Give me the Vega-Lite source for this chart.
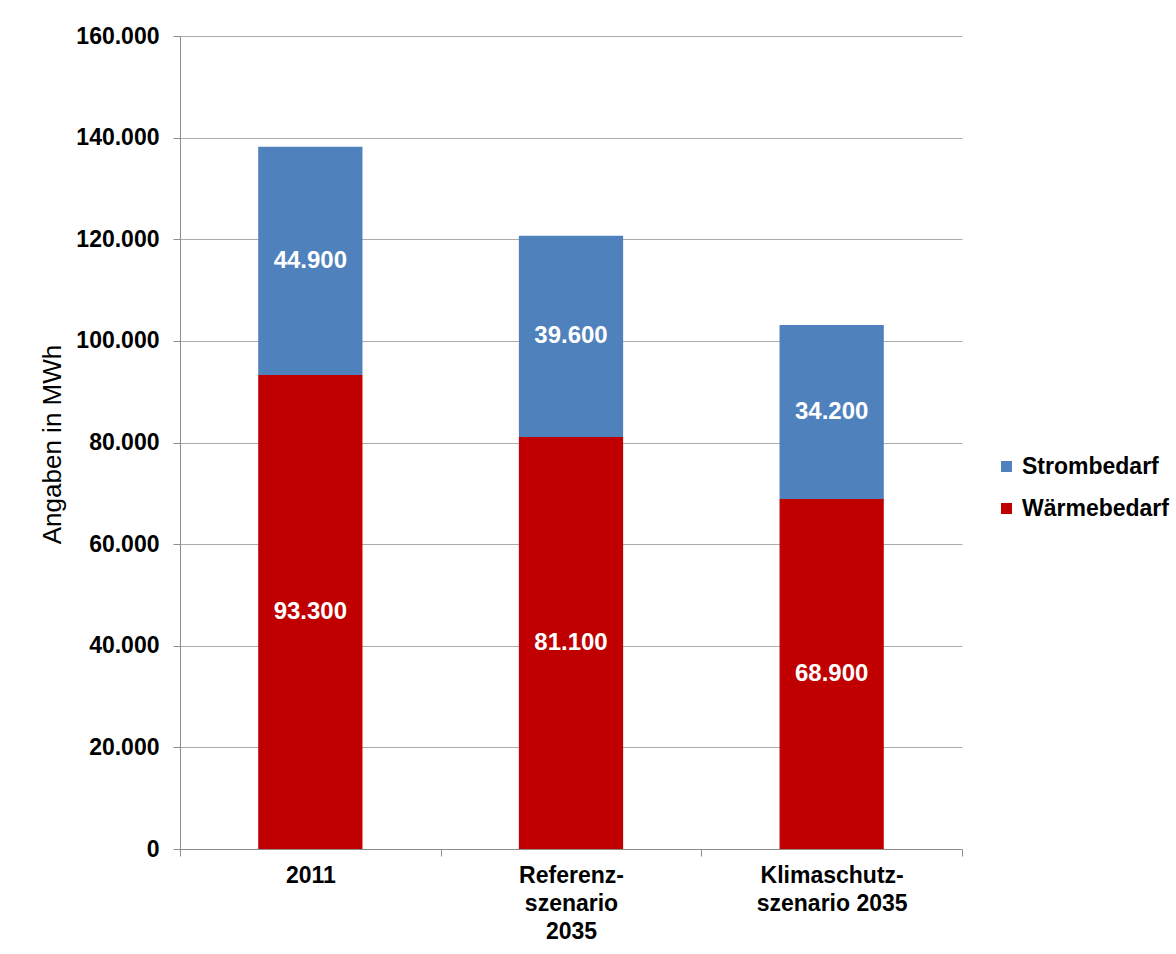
{
  "$schema": "https://vega.github.io/schema/vega-lite/v6.json",
  "width": 782,
  "height": 813,
  "autosize": {"type": "none"},
  "padding": {"left": 180, "top": 36, "right": 214, "bottom": 105},
  "background": "white",
  "config": {
    "locale": {"number": {"decimal": ",", "thousands": ".", "grouping": [3], "currency": ["", " €"]}},
    "view": {"stroke": null},
    "font": "Liberation Sans"
  },
  "data": {
    "values": [
      {"scenario": "2011", "label": "2011", "typ": "Wärmebedarf", "value": 93300},
      {"scenario": "2011", "label": "2011", "typ": "Strombedarf", "value": 44900},
      {"scenario": "Referenz", "label": "Referenz-|szenario|2035", "typ": "Wärmebedarf", "value": 81100},
      {"scenario": "Referenz", "label": "Referenz-|szenario|2035", "typ": "Strombedarf", "value": 39600},
      {"scenario": "Klimaschutz", "label": "Klimaschutz-|szenario 2035", "typ": "Wärmebedarf", "value": 68900},
      {"scenario": "Klimaschutz", "label": "Klimaschutz-|szenario 2035", "typ": "Strombedarf", "value": 34200}
    ]
  },
  "transform": [
    {"stack": "value", "groupby": ["label"], "sort": [{"field": "typ", "order": "descending"}], "as": ["v0", "v1"]},
    {"calculate": "(datum.v0 + datum.v1) / 2", "as": "mid"}
  ],
  "encoding": {
    "x": {
      "field": "label",
      "type": "nominal",
      "sort": null,
      "scale": {"paddingInner": 0, "paddingOuter": 0},
      "axis": {
        "title": null,
        "labelAngle": 0,
        "labelExpr": "split(datum.label, '|')",
        "labelFontSize": 23,
        "labelFontWeight": "bold",
        "labelColor": "black",
        "labelLineHeight": 28,
        "labelPadding": 8,
        "tickBand": "extent",
        "tickSize": 7,
        "tickColor": "#8C8C8C",
        "domainColor": "#8C8C8C",
        "labelBaseline": "top"
      }
    }
  },
  "layer": [
    {
      "mark": {"type": "bar", "width": {"band": 0.4}},
      "encoding": {
        "y": {
          "field": "v1",
          "type": "quantitative",
          "scale": {"domain": [0, 160000], "nice": false},
          "axis": {
            "values": [0, 20000, 40000, 60000, 80000, 100000, 120000, 140000, 160000],
            "labelExpr": "format(datum.value, ',d')",
            "grid": true,
            "gridColor": "#ABABAB",
            "domainColor": "#8C8C8C",
            "tickColor": "#8C8C8C",
            "tickSize": 7,
            "labelPadding": 14,
            "labelFontSize": 23,
            "labelFontWeight": "bold",
            "labelColor": "black",
            "title": "Angaben in MWh",
            "titleFontSize": 26,
            "titleFontWeight": "normal",
            "titleColor": "black",
            "titleX": -128,
            "titleY": 408,
            "titleBaseline": "middle",
            "titleAlign": "center"
          }
        },
        "y2": {"field": "v0"},
        "color": {
          "field": "typ",
          "type": "nominal",
          "scale": {"domain": ["Strombedarf", "Wärmebedarf"], "range": ["#4F81BD", "#C00000"]},
          "legend": {
            "title": null,
            "orient": "none",
            "legendX": 815,
            "legendY": 419,
            "symbolType": "square",
            "symbolSize": 121,
            "symbolStrokeWidth": 0,
            "labelFontSize": 23,
            "labelFontWeight": "bold",
            "labelColor": "black",
            "labelOffset": 4,
            "rowPadding": 18
          }
        }
      }
    },
    {
      "mark": {"type": "text", "color": "white", "fontSize": 24, "fontWeight": "bold", "baseline": "middle"},
      "encoding": {
        "y": {"field": "mid", "type": "quantitative"},
        "text": {"field": "value", "type": "quantitative", "format": ","}
      }
    }
  ]
}
